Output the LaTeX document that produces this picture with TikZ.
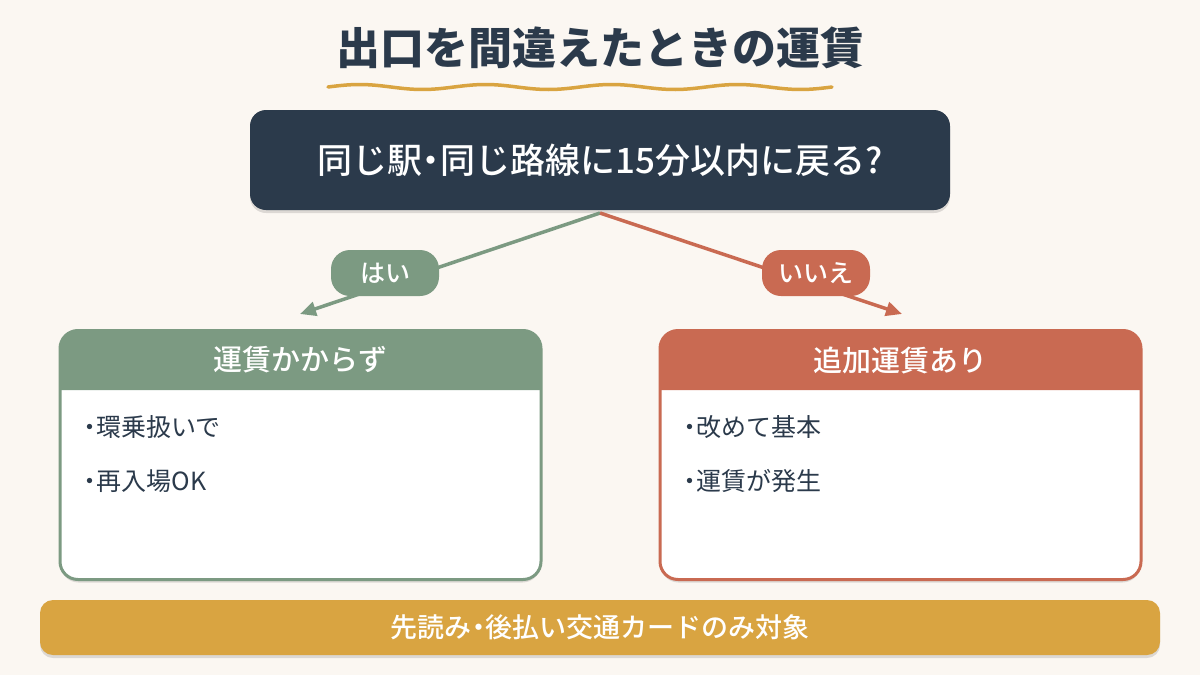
\documentclass[tikz,border=0pt]{standalone}
\usepackage{fontspec}
\setmainfont{Noto Sans CJK JP}
\newfontfamily\med{Noto Sans CJK JP}[UprightFont={* Medium}]
\newcommand{\pdot}{{\addfontfeature{RawFeature=+palt}・}}
\usetikzlibrary{arrows.meta,shadows}
\definecolor{bg}{HTML}{FBF7F2}
\definecolor{navy}{HTML}{2B3A4B}
\definecolor{sage}{HTML}{7C9A82}
\definecolor{terra}{HTML}{C96A52}
\definecolor{gold}{HTML}{D9A441}
\tikzset{
  shad/.style={drop shadow={shadow xshift=0pt, shadow yshift=-3pt, opacity=0.12, fill=black}},
  qbox/.style={fill=navy, rounded corners=16pt, minimum width=700pt, minimum height=100pt, text=white, font=\med\fontsize{35}{42}\selectfont, shad},
  pill/.style={rounded corners=19pt, minimum width=108pt, minimum height=46pt, text=white, font=\med\fontsize{25}{28}\selectfont},
  card/.style={fill=white, rounded corners=18pt, minimum width=480pt, minimum height=249pt, shad},
  headtxt/.style={text=white, font=\med\fontsize{29}{34}\selectfont},
  bodytxt/.style={text=navy, anchor=west, font=\fontsize{25}{28}\selectfont, inner sep=0pt},
  arr/.style={line width=3.5pt, -{Triangle[length=16pt,width=14pt]}},
  foot/.style={fill=gold, rounded corners=13pt, minimum width=1120pt, minimum height=55pt, text=white, font=\med\fontsize{27}{30}\selectfont, shad},
}
\begin{document}
\begin{tikzpicture}[x=1pt,y=-1pt]
\useasboundingbox (0,0) rectangle (1200,675);
\fill[bg] (0,0) rectangle (1200,675);
% title
\node[text=navy, font=\bfseries\fontsize{44}{52}\selectfont] (title) at (600,48) {出口を間違えたときの運賃};
\draw[gold, line width=3.5pt, line cap=round, domain=0:504, samples=120, smooth] plot ({328+\x},{87-2.5*sin(\x/126*360)});
% question
\node[qbox] (q) at (600,160) {同じ駅\pdot 同じ路線に15分以内に戻る?};
\coordinate (split) at (600,213);
\coordinate (lend) at (300,314);
\coordinate (rend) at (902,314);
\draw[arr, sage] (split) -- (lend);
\draw[arr, terra] (split) -- (rend);
\node[pill, fill=sage] (yes) at (385,273) {はい};
\node[pill, fill=terra] (no) at (816,273) {いいえ};
% left card
\node[card] (lbox) at (300.5,455) {};
\fill[sage] (60,390) [rounded corners=18pt] -- (60,330.5) -- (541,330.5) [sharp corners] -- (541,390) -- cycle;
\draw[sage, line width=3pt, rounded corners=18pt] (60,330.5) rectangle (541,579.5);
\node[headtxt] (lhead) at (300.5,360) {運賃かからず};
\node[bodytxt] (l1) at (84,427) {\pdot 環乗扱いで};
\node[bodytxt] (l2) at (84,481) {\pdot 再入場OK};
% right card
\node[card] (rbox) at (900.5,455) {};
\fill[terra] (660,390) [rounded corners=18pt] -- (660,330.5) -- (1141,330.5) [sharp corners] -- (1141,390) -- cycle;
\draw[terra, line width=3pt, rounded corners=18pt] (660,330.5) rectangle (1141,579.5);
\node[headtxt] (rhead) at (900.5,360) {追加運賃あり};
\node[bodytxt] (r1) at (684,427) {\pdot 改めて基本};
\node[bodytxt] (r2) at (684,481) {\pdot 運賃が発生};
% footer
\node[foot] (ft) at (600,627.5) {先読み\pdot 後払い交通カードのみ対象};
\end{tikzpicture}
\end{document}
